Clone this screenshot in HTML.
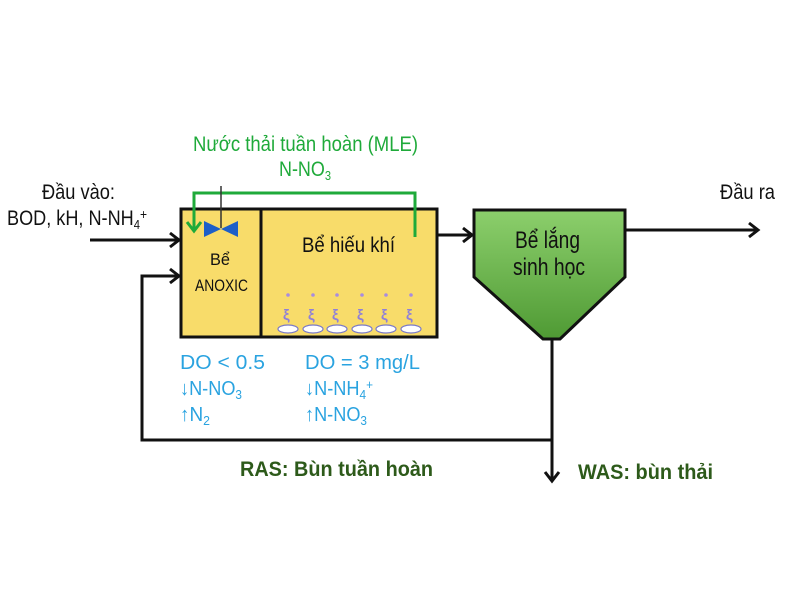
<!DOCTYPE html>
<html><head><meta charset="utf-8"><style>html,body{margin:0;padding:0;background:#fff}svg{display:block}text{font-family:"Liberation Sans",sans-serif}</style></head><body>
<svg width="800" height="600" viewBox="0 0 800 600" xmlns="http://www.w3.org/2000/svg">
<defs>
<linearGradient id="g" x1="0" y1="0" x2="0" y2="1"><stop offset="0" stop-color="#8ccf6c"/><stop offset="1" stop-color="#4f9a34"/></linearGradient>
</defs>
<rect x="181" y="209" width="256" height="128" fill="#f8dc6a" stroke="#111" stroke-width="3"/>
<line x1="261" y1="209" x2="261" y2="337" stroke="#111" stroke-width="3"/>
<polygon points="474,210 625,210 625,277 560,339 543,339 474,277" fill="url(#g)" stroke="#111" stroke-width="3"/>
<polyline points="415,237 415,193 194,193 194,230" fill="none" stroke="#1faa3a" stroke-width="3"/>
<polyline points="187,222 194,231 201,222" fill="none" stroke="#1faa3a" stroke-width="3"/>
<line x1="221" y1="186" x2="221" y2="228" stroke="#333" stroke-width="1.5"/>
<polygon points="204,221 221,229 238,221 238,237 221,229 204,237" fill="#1d5fc8"/>
<g fill="#a88ce0">
<circle cx="288" cy="295" r="1.8"/><circle cx="313" cy="295" r="1.8"/><circle cx="337" cy="295" r="1.8"/><circle cx="362" cy="295" r="1.8"/><circle cx="386" cy="295" r="1.8"/><circle cx="411" cy="295" r="1.8"/>
</g>
<g fill="#8f80d8" font-size="15" font-weight="bold">
<text x="283" y="320">ξ</text><text x="308" y="320">ξ</text><text x="332" y="320">ξ</text><text x="357" y="320">ξ</text><text x="381" y="320">ξ</text><text x="406" y="320">ξ</text>
</g>
<g fill="#fff" stroke="#7a7ac8" stroke-width="1.2">
<ellipse cx="288" cy="329" rx="10" ry="4"/><ellipse cx="313" cy="329" rx="10" ry="4"/><ellipse cx="337" cy="329" rx="10" ry="4"/><ellipse cx="362" cy="329" rx="10" ry="4"/><ellipse cx="386" cy="329" rx="10" ry="4"/><ellipse cx="411" cy="329" rx="10" ry="4"/>
</g>
<g stroke="#111" stroke-width="3" fill="none">
<line x1="90" y1="240" x2="178" y2="240"/><polyline points="170,233 179,240 170,247"/>
<polyline points="552,339 552,440 142,440 142,276 178,276"/><polyline points="170,269 179,276 170,283"/>
<line x1="437" y1="235" x2="471" y2="235"/><polyline points="463,228 472,235 463,242"/>
<line x1="625" y1="230" x2="757" y2="230"/><polyline points="749,223 758,230 749,237"/>
<line x1="552" y1="440" x2="552" y2="480"/><polyline points="545,472 552,481 559,472"/>
</g>
<g fill="#1faa3a" font-size="21">
<text x="193" y="151" textLength="225" lengthAdjust="spacingAndGlyphs">Nước thải tuần hoàn (MLE)</text>
<text x="279" y="176" textLength="52" lengthAdjust="spacingAndGlyphs">N-NO<tspan font-size="13" dy="4">3</tspan></text>
</g>
<g fill="#111" font-size="21">
<text x="42" y="199" textLength="73" lengthAdjust="spacingAndGlyphs">Đầu vào:</text>
<text x="7" y="225" textLength="140" lengthAdjust="spacingAndGlyphs">BOD, kH, N-NH<tspan font-size="13" dy="4">4</tspan><tspan font-size="14" dy="-10">+</tspan></text>
<text x="720" y="199" textLength="55" lengthAdjust="spacingAndGlyphs">Đầu ra</text>
<text x="302" y="252" textLength="93" lengthAdjust="spacingAndGlyphs">Bể hiếu khí</text>
</g>
<g fill="#111" font-size="24">
<text x="515" y="248" textLength="65" lengthAdjust="spacingAndGlyphs">Bể lắng</text>
<text x="513" y="275" textLength="72" lengthAdjust="spacingAndGlyphs">sinh học</text>
</g>
<g fill="#111" font-size="17">
<text x="210" y="265" textLength="20" lengthAdjust="spacingAndGlyphs">Bể</text>
<text x="195" y="291" textLength="53" lengthAdjust="spacingAndGlyphs">ANOXIC</text>
</g>
<g fill="#2aa3e0" font-size="20">
<text x="180" y="369" textLength="85" lengthAdjust="spacingAndGlyphs">DO &lt; 0.5</text>
<text x="180" y="395" textLength="62" lengthAdjust="spacingAndGlyphs">↓N-NO<tspan font-size="13" dy="4">3</tspan></text>
<text x="180" y="421" textLength="30" lengthAdjust="spacingAndGlyphs">↑N<tspan font-size="13" dy="4">2</tspan></text>
<text x="305" y="369" textLength="115" lengthAdjust="spacingAndGlyphs">DO = 3 mg/L</text>
<text x="305" y="395" textLength="68" lengthAdjust="spacingAndGlyphs">↓N-NH<tspan font-size="13" dy="4">4</tspan><tspan font-size="13" dy="-10">+</tspan></text>
<text x="305" y="421" textLength="62" lengthAdjust="spacingAndGlyphs">↑N-NO<tspan font-size="13" dy="4">3</tspan></text>
</g>
<g fill="#2d5a1a" font-size="21" font-weight="bold">
<text x="240" y="476" textLength="193" lengthAdjust="spacingAndGlyphs">RAS: Bùn tuần hoàn</text>
<text x="578" y="479" textLength="135" lengthAdjust="spacingAndGlyphs">WAS: bùn thải</text>
</g>
</svg>
</body></html>
